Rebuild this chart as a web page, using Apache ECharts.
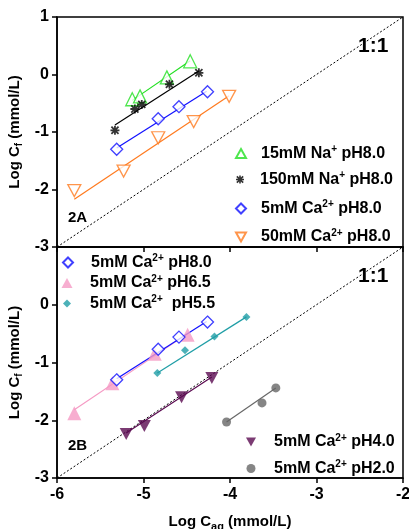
<!DOCTYPE html>
<html><head><meta charset="utf-8">
<script src="https://cdn.jsdelivr.net/npm/echarts@6/dist/echarts.min.js"></script>
<style>html,body{margin:0;padding:0;background:#fff}#c{width:409px;height:529px}</style>
</head><body><div id="c"></div>
<script>
// ---- Data ----
const xTicks = [-6, -5, -4, -3, -2];
const yTicks = [1, 0, -1, -2, -3];
// Panel 2A
const na15X = [-5.13, -5.04, -4.73, -4.46];
const na15Y = [-0.43, -0.38, -0.05, 0.23];
const na15FitX = [-5.13, -4.46];
const na15FitY = [-0.45, 0.24];
const na150X = [-5.33, -5.10, -5.02, -4.70, -4.36];
const na150Y = [-0.97, -0.60, -0.52, -0.17, 0.03];
const na150FitX = [-5.33, -4.36];
const na150FitY = [-0.88, 0.06];
const ca5ph8X = [-5.31, -4.83, -4.59, -4.26];
const ca5ph8Y = [-1.30, -0.77, -0.56, -0.30];
const ca5ph8FitX = [-5.31, -4.27];
const ca5ph8FitY = [-1.28, -0.29];
const ca50X = [-5.80, -5.23, -4.83, -4.42, -4.01];
const ca50Y = [-2.02, -1.68, -1.10, -0.82, -0.38];
const ca50FitX = [-5.80, -4.01];
const ca50FitY = [-2.17, -0.37];
// Panel 2B
const ph65X = [-5.80, -5.36, -4.87, -4.49];
const ph65Y = [-1.88, -1.36, -0.85, -0.52];
const ph65FitX = [-5.80, -4.49];
const ph65FitY = [-1.82, -0.50];
const ph55X = [-4.84, -4.52, -4.18, -3.81];
const ph55Y = [-1.18, -0.79, -0.55, -0.21];
const ph55FitX = [-4.84, -3.81];
const ph55FitY = [-1.18, -0.21];
const ph40X = [-5.20, -4.99, -4.56, -4.21];
const ph40Y = [-2.24, -2.10, -1.60, -1.27];
const ph40FitX = [-5.20, -4.21];
const ph40FitY = [-2.22, -1.25];
const ph20X = [-4.04, -3.63, -3.47];
const ph20Y = [-2.03, -1.70, -1.44];
const ph20FitX = [-4.04, -3.47];
const ph20FitY = [-2.03, -1.44];
// 1:1 reference line
const refX = [-6, -2];
const refY = [-3, 1];

const names = {
  na15: '15mM Na+ pH8.0',
  na150: '150mM Na+ pH8.0',
  ca5: '5mM Ca2+ pH8.0',
  ca50: '50mM Ca2+ pH8.0',
  ph65: '5mM Ca2+ pH6.5',
  ph55: '5mM Ca2+  pH5.5',
  ph40: '5mM Ca2+ pH4.0',
  ph20: '5mM Ca2+ pH2.0'
};
const col = {
  na15: '#22e022', na150: '#000000', ca5: '#1010ff', ca50: '#ff7a1e',
  ph65: '#f59ac4', ph55: '#1f9ea6', ph40: '#5a0a50', ph20: '#666666'
};
const zip = (a, b) => a.map((v, i) => [v, b[i]]);
const asterisk = 'path://M8 0L12 0L12 20L8 20Z M0 8L20 8L20 12L0 12Z M3.5 0.7L19.3 16.5L16.5 19.3L0.7 3.5Z M16.5 0.7L19.3 3.5L3.5 19.3L0.7 16.5Z';
const downTri = 'path://M0 0L20 0L10 18Z';
const FONT = 'Liberation Sans';

function scatter(g, name, xs, ys, symbol, size, color, hollow) {
  return {
    type: 'scatter', name: name, xAxisIndex: g, yAxisIndex: g, z: 5,
    data: zip(xs, ys), symbol: symbol, symbolSize: size,
    itemStyle: hollow ? {color: '#fff', borderColor: color, borderWidth: 1.3} : {color: color},
    emphasis: {disabled: true}
  };
}
function fit(g, xs, ys, color) {
  return {
    type: 'line', xAxisIndex: g, yAxisIndex: g, data: zip(xs, ys), symbol: 'none',
    lineStyle: {color: color, width: 1.2}, z: 3, silent: true
  };
}
function ref(g) {
  return {
    type: 'line', xAxisIndex: g, yAxisIndex: g, data: zip(refX, refY), symbol: 'none',
    lineStyle: {color: '#000', width: 1, type: [2, 2]}, z: 2, silent: true
  };
}
const legFmt = n => n.replace('Na+', 'Na{sup|+}').replace('Ca2+', 'Ca{sup|2+}');
const legText = {
  fontFamily: FONT, fontWeight: 'bold', fontSize: 16, color: '#000',
  rich: {sup: {fontFamily: FONT, fontWeight: 'bold', fontSize: 10, color: '#000', verticalAlign: 'bottom', padding: [0, 0, 8, 0]}}
};
// one legend per entry: [series name, icon centre x, centre y, icon w, icon h, text start x]
const legendLayout = [
  [names.na15, 240, 151.5, 10, 9, 260], [names.na150, 240, 177.5, 8, 8, 260],
  [names.ca5, 240, 206.5, 10, 10, 260], [names.ca50, 240, 235, 10, 9, 260],
  [names.ca5, 67, 260.5, 10, 10, 90], [names.ph65, 67, 281, 11, 10, 90], [names.ph55, 67, 301.5, 8, 8, 90],
  [names.ph40, 251, 440, 10, 9, 274], [names.ph20, 251, 466.5, 9, 9, 274]
];
function legend(e) {
  return {
    orient: 'vertical', left: e[1] - e[3] / 2, top: e[2] - 7, padding: 0,
    itemWidth: e[3], itemHeight: e[4], data: [e[0]], formatter: legFmt,
    textStyle: Object.assign({}, legText, {padding: [0, 0, 0, e[5] - (e[1] + e[3] / 2) - 5]}),
    selectedMode: false
  };
}
function xAxis(g, showLabels) {
  return {
    type: 'value', gridIndex: g, min: -6, max: -2, interval: 1,
    axisLine: {show: true, onZero: false, lineStyle: {color: '#000', width: 1.5}},
    axisTick: {show: true, inside: false, length: 5, lineStyle: {color: '#000', width: 1.5}},
    axisLabel: {show: showLabels, fontFamily: FONT, fontWeight: 'bold', fontSize: 16, color: '#000', margin: 9},
    splitLine: {show: false},
    name: showLabels ? 'Log C{sub|aq} (mmol/L)' : '',
    nameLocation: 'middle', nameGap: 33,
    nameTextStyle: {fontFamily: FONT, fontWeight: 'bold', fontSize: 15, color: '#000',
      rich: {sub: {fontFamily: FONT, fontWeight: 'bold', fontSize: 11, color: '#000', verticalAlign: 'top', padding: [10, 0, 0, 0]}}}
  };
}
function yAxis(g, showMax) {
  return {
    type: 'value', gridIndex: g, min: -3, max: 1, interval: 1,
    axisLine: {show: true, onZero: false, lineStyle: {color: '#000', width: 1.5}},
    axisTick: {show: true, inside: false, length: 5, lineStyle: {color: '#000', width: 1.5}},
    axisLabel: {fontFamily: FONT, fontWeight: 'bold', fontSize: 16, color: '#000', margin: 8, showMaxLabel: showMax},
    splitLine: {show: false},
    name: 'Log C{sub|f} (mmol/L)', nameLocation: 'middle', nameGap: 32,
    nameTextStyle: {fontFamily: FONT, fontWeight: 'bold', fontSize: 15, color: '#000',
      rich: {sub: {fontFamily: FONT, fontWeight: 'bold', fontSize: 10, color: '#000', verticalAlign: 'top', padding: [9, 0, 0, 0]}}}
  };
}

const chart = echarts.init(document.getElementById('c'), null, {renderer: 'canvas'});
chart.setOption({
  animation: false,
  backgroundColor: '#fff',
  grid: [
    {left: 57, right: 6, top: 17, height: 230, show: true, borderColor: '#000', borderWidth: 1.5,
      backgroundColor: 'transparent', containLabel: false, outerBoundsMode: 'none'},
    {left: 57, right: 6, top: 247, height: 231, show: true, borderColor: '#000', borderWidth: 1.5,
      backgroundColor: 'transparent', containLabel: false, outerBoundsMode: 'none'}
  ],
  xAxis: [xAxis(0, false), xAxis(1, true)],
  yAxis: [yAxis(0, true), yAxis(1, false)],
  legend: legendLayout.map(legend),
  graphic: [
    {type: 'text', left: 358, top: 36, style: {text: '1:1', font: 'bold 21px "Liberation Sans"', fill: '#000'}},
    {type: 'text', left: 358, top: 266, style: {text: '1:1', font: 'bold 21px "Liberation Sans"', fill: '#000'}},
    {type: 'text', left: 68, top: 210, style: {text: '2A', font: 'bold 15px "Liberation Sans"', fill: '#000'}},
    {type: 'text', left: 68, top: 438, style: {text: '2B', font: 'bold 15px "Liberation Sans"', fill: '#000'}}
  ],
  series: [
    ref(0), ref(1),
    fit(0, na15FitX, na15FitY, col.na15),
    fit(0, na150FitX, na150FitY, col.na150),
    fit(0, ca5ph8FitX, ca5ph8FitY, col.ca5),
    fit(0, ca50FitX, ca50FitY, col.ca50),
    scatter(0, names.na15, na15X, na15Y, 'triangle', 13, col.na15, true),
    scatter(0, names.na150, na150X, na150Y, asterisk, 9, col.na150, false),
    scatter(0, names.ca5, ca5ph8X, ca5ph8Y, 'diamond', 12, col.ca5, true),
    scatter(0, names.ca50, ca50X, ca50Y, downTri, [13, 12], col.ca50, true),
    fit(1, ph65FitX, ph65FitY, col.ph65),
    fit(1, ca5ph8FitX, ca5ph8FitY, col.ca5),
    fit(1, ph55FitX, ph55FitY, col.ph55),
    fit(1, ph40FitX, ph40FitY, col.ph40),
    fit(1, ph20FitX, ph20FitY, col.ph20),
    scatter(1, names.ph65, ph65X, ph65Y, 'triangle', 14, col.ph65, false),
    scatter(1, names.ca5, ca5ph8X, ca5ph8Y, 'diamond', 12, col.ca5, true),
    scatter(1, names.ph55, ph55X, ph55Y, 'diamond', 8, col.ph55, false),
    scatter(1, names.ph40, ph40X, ph40Y, downTri, [13, 12], col.ph40, false),
    scatter(1, names.ph20, ph20X, ph20Y, 'circle', 9, col.ph20, false)
  ]
});
</script></body></html>
